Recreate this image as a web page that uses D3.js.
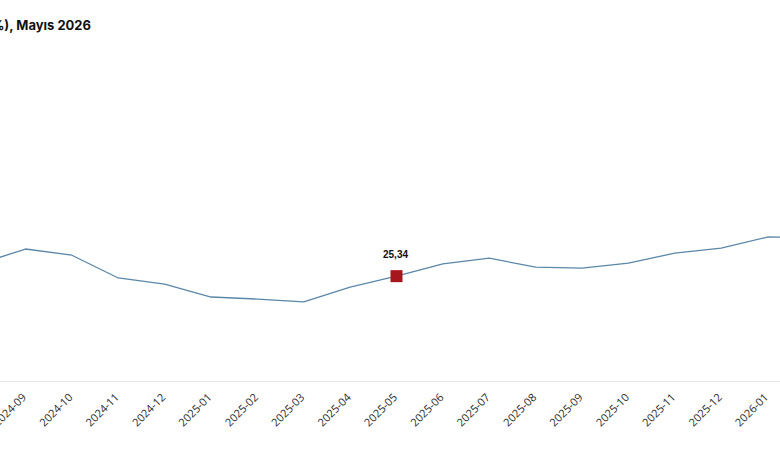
<!DOCTYPE html>
<html>
<head>
<meta charset="utf-8">
<script src="https://cdn.jsdelivr.net/npm/d3@7"></script>
<style>
  body { margin: 0; background: #fff; overflow: hidden; }
  .chart { display: block; }
  .x.axis text { font-family: "Open Sans", sans-serif; font-size: 11px; fill: #2b2b2b; }
  .x.axis .domain { stroke: #e6e6e6; }
</style>
</head>
<body>
<svg class="chart"></svg>
<script>
var width = 780, height = 464;

// months (the first and last lie just outside the visible area)
var months = ["2024-08","2024-09","2024-10","2024-11","2024-12","2025-01","2025-02","2025-03",
  "2025-04","2025-05","2025-06","2025-07","2025-08","2025-09","2025-10","2025-11","2025-12",
  "2026-01","2026-02"];
var values = [28.3, 31.9, 30.4, 24.9, 23.4, 20.3, 19.8, 19.1,
  22.7, 25.34, 28.3, 29.7, 27.5, 27.3, 28.5, 30.9, 32.1,
  34.8, 34.7];
var highlight = "2025-05";
var titleText = "%), Mayıs 2026";

var data = months.map((m, i) => ({month: m, value: values[i]}));

var x = d3.scalePoint().domain(months).range([-20.875, 813.875]);
var y = d3.scaleLinear().domain([0, 80]).range([381, 50]);

var chart = d3.select(".chart")
    .attr("width", width)
    .attr("height", height);

chart.append("text")
    .attr("x", 91)
    .attr("y", 30)
    .attr("text-anchor", "end")
    .style("font-family", "Inter, sans-serif")
    .style("font-weight", 700)
    .style("font-size", "13px")
    .style("fill", "#111")
    .text(titleText);

var xAxis = d3.axisBottom(x).tickSize(0).tickPadding(0);

var gx = chart.append("g")
    .attr("class", "x axis")
    .attr("transform", "translate(0,381)")
    .call(xAxis);

gx.selectAll(".tick text")
    .attr("y", 0)
    .attr("dy", 0)
    .attr("transform", "translate(1,17) rotate(-45)")
    .style("text-anchor", "end");

let line = d3.line()
  .x(d => x(d.month))
  .y(d => y(d.value));

chart.append("path")
    .datum(data)
    .attr("fill", "none")
    .attr("stroke", "#5b87a8")
    .attr("stroke-linejoin", "round")
    .attr("stroke-width", 1.3)
    .attr("d", line);

var hp = data.filter(d => d.month == highlight);

chart.selectAll(".hl")
    .data(hp)
  .enter().append("rect")
    .attr("class", "hl")
    .attr("x", d => x(d.month) - 6)
    .attr("y", d => y(d.value) - 6)
    .attr("width", 12)
    .attr("height", 12)
    .attr("fill", "#a8161d");

chart.selectAll(".hl-label")
    .data(hp)
  .enter().append("text")
    .attr("class", "hl-label")
    .attr("x", d => x(d.month) - 1)
    .attr("y", d => y(d.value) - 18)
    .attr("text-anchor", "middle")
    .style("font-family", "Liberation Sans, Arial, sans-serif")
    .style("font-weight", 700)
    .style("font-size", "10px")
    .style("fill", "#111")
    .text(d => d3.format(".2f")(d.value).replace(".", ","));
</script>
</body>
</html>
